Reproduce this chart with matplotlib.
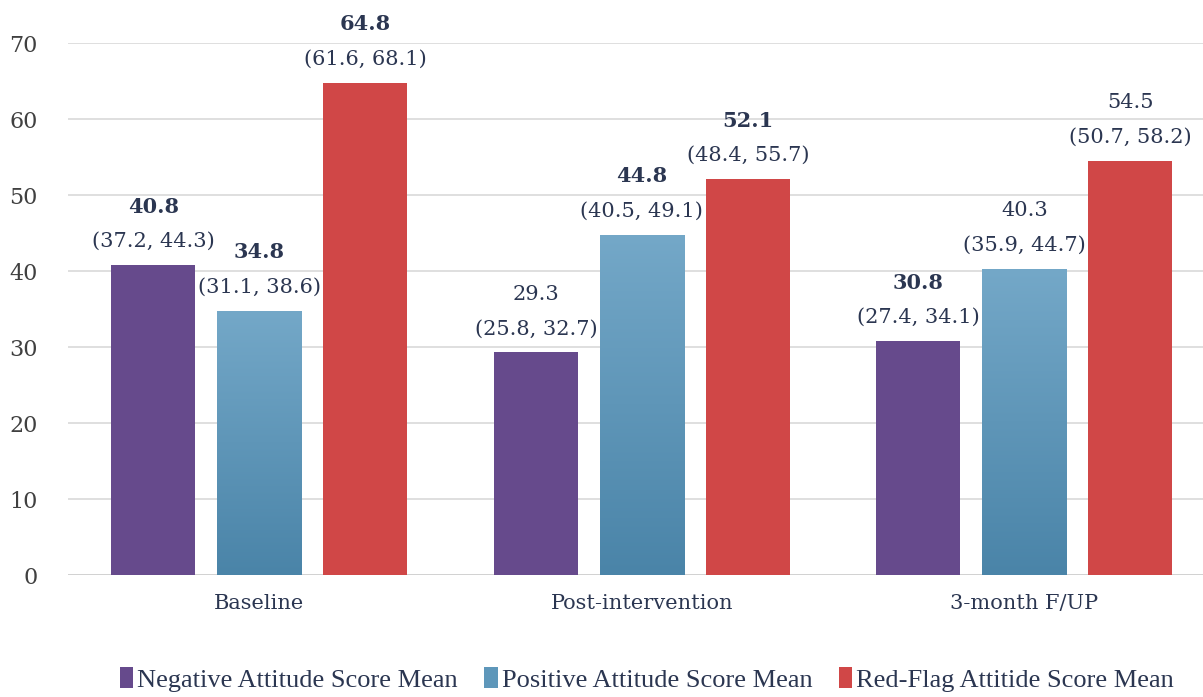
import numpy as np
import matplotlib
matplotlib.use("Agg")
import matplotlib.pyplot as plt
from matplotlib.patches import Patch

categories = ["Baseline", "Post-intervention", "3-month F/UP"]
series_names = ["Negative Attitude Score Mean", "Positive Attitude Score Mean",
                "Red-Flag Attitide Score Mean"]
negative = [40.8, 29.3, 30.8]
positive = [34.8, 44.8, 40.3]
redflag = [64.8, 52.1, 54.5]
negative_ci = ["(37.2, 44.3)", "(25.8, 32.7)", "(27.4, 34.1)"]
positive_ci = ["(31.1, 38.6)", "(40.5, 49.1)", "(35.9, 44.7)"]
redflag_ci = ["(61.6, 68.1)", "(48.4, 55.7)", "(50.7, 58.2)"]
negative_bold = [True, False, True]
positive_bold = [True, True, False]
redflag_bold = [True, True, False]
yticks = [0, 10, 20, 30, 40, 50, 60, 70]

colors = ["#664a8c", "#5e97ba", "#d04747"]
text_color = "#2b3651"
font = "DejaVu Serif"

fig = plt.figure(figsize=(12.03, 6.97), dpi=100)
ax = fig.add_axes([0.0565, 0.175, 0.9435, 0.763])

x = np.arange(len(categories))
offset = 0.277
width = 0.22
series = [negative, positive, redflag]
cis = [negative_ci, positive_ci, redflag_ci]
bolds = [negative_bold, positive_bold, redflag_bold]

for i, (vals, ci, bl) in enumerate(zip(series, cis, bolds)):
    pos = x + (i - 1) * offset
    bars = ax.bar(pos, vals, width, color=colors[i], zorder=3)
    if i == 1:
        grad = np.linspace(1, 0, 256).reshape(-1, 1)
        cmap = matplotlib.colors.LinearSegmentedColormap.from_list(
            "g", ["#4a84a8", "#74a8c8"])
        for b in bars:
            b.set_facecolor("none")
            x0, y0 = b.get_x(), b.get_y()
            im = ax.imshow(grad, cmap=cmap, aspect="auto",
                           extent=[x0, x0 + b.get_width(), y0, y0 + b.get_height()],
                           zorder=3, origin="upper")
            im.set_clip_path(b)
    for p, v, c, bb in zip(pos, vals, ci, bl):
        ax.annotate(f"{v:.1f}", (p, v), xytext=(0, 42), textcoords="offset points",
                    ha="center", va="center", fontsize=15, family=font,
                    fontweight="bold" if bb else "normal", color=text_color,
                    annotation_clip=False)
        ax.annotate(c, (p, v), xytext=(0, 17), textcoords="offset points",
                    ha="center", va="center", fontsize=15, family=font,
                    color=text_color, annotation_clip=False)

ax.set_xlim(-0.5, 2.467)
ax.set_ylim(0, 70)
ax.set_yticks(yticks)
ax.set_yticklabels([str(t) for t in yticks], family=font, fontsize=16, color="#404040")
ax.set_xticks(x)
ax.set_xticklabels(categories, family=font, fontsize=15, color=text_color)
ax.tick_params(axis="y", length=0, pad=22)
ax.tick_params(axis="x", length=0, pad=14)
ax.grid(axis="y", color="#d9d9d9", linewidth=1.2, zorder=0)
for s in ax.spines.values():
    s.set_visible(False)
ax.axhline(0, color="#d0d0d0", linewidth=1.2, zorder=2)

handles = [Patch(facecolor=c) for c in colors]
fig.legend(handles, series_names, loc="center left", bbox_to_anchor=(0.1, 0.025),
           ncol=3, frameon=False, handlelength=0.5, handleheight=0.8,
           handletextpad=0.15, columnspacing=1.0, borderaxespad=0, borderpad=0,
           prop={"family": "Liberation Serif", "size": 19}, labelcolor=text_color)

fig.savefig("out.png", dpi=100)
